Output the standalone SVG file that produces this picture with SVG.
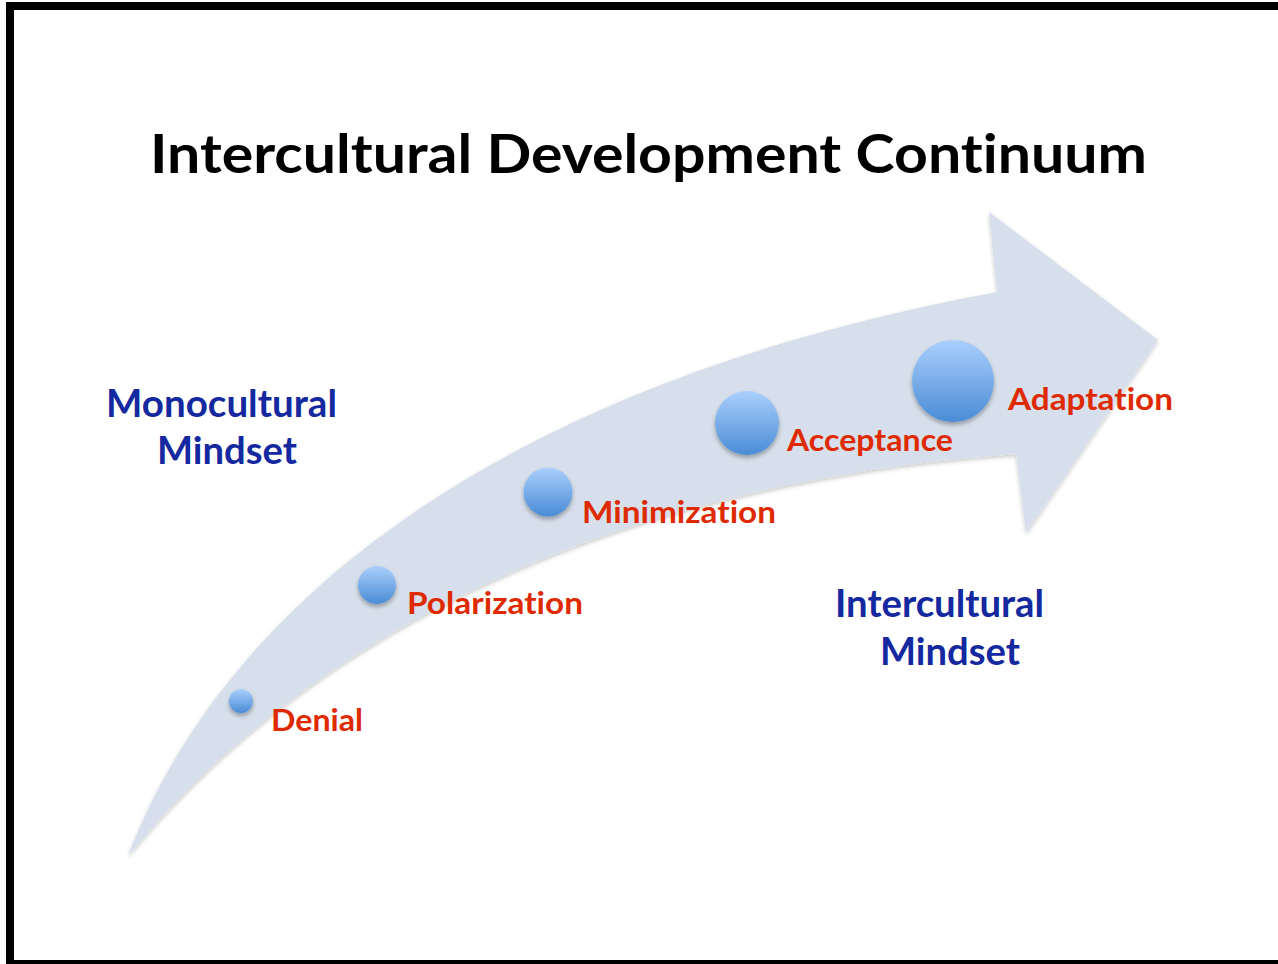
<svg xmlns="http://www.w3.org/2000/svg" width="1278" height="964" viewBox="0 0 1278 964">
  <defs>
    <linearGradient id="ball" x1="0" y1="0" x2="0" y2="1">
      <stop offset="0" stop-color="#AACFFC"/>
      <stop offset="1" stop-color="#4A8CD6"/>
    </linearGradient>
    <filter id="sh" x="-30%" y="-30%" width="160%" height="170%">
      <feDropShadow dx="0" dy="3" stdDeviation="2" flood-color="#000" flood-opacity="0.3"/>
    </filter>
    <filter id="ash" x="-10%" y="-10%" width="120%" height="120%">
      <feDropShadow dx="0" dy="2" stdDeviation="2" flood-color="#000" flood-opacity="0.22"/>
    </filter>
  </defs>
  <style>
    text { font-variant-ligatures: none; font-feature-settings: "liga" 0, "clig" 0, "dlig" 0; }
    .title { font-family: Lato, "Open Sans", "Liberation Sans", sans-serif; font-weight: bold; font-size: 53px; fill: #000; }
    .stage { font-family: Lato, "Open Sans", "Liberation Sans", sans-serif; font-weight: bold; font-size: 30px; fill: #DF2A00; }
    .mind { font-family: Lato, "Open Sans", "Liberation Sans", sans-serif; font-weight: bold; font-size: 38px; fill: #14289F; }
    .ball { fill: url(#ball); filter: url(#sh); }
  </style>
  <rect x="0" y="0" width="1278" height="964" fill="#fff"/>
  <rect x="10" y="6" width="1300" height="958" fill="#fff" stroke="#000" stroke-width="8"/>

  <text class="title" x="150" y="173" textLength="997" lengthAdjust="spacingAndGlyphs">Intercultural Development Continuum</text>

  <g id="connectors">
    <path id="arrow" d="M128,856 C230,590 520,380 997,292 L989,212 L1158,340 L1026,533 L1016,454 C650,480 330,610 128,856 Z" fill="#D6DFEB" filter="url(#ash)"/>
  </g>

  <g id="monocultural">
    <text class="mind" x="106" y="417" textLength="231" lengthAdjust="spacingAndGlyphs">Monocultural</text>
    <text class="mind" x="157" y="464" textLength="140" lengthAdjust="spacingAndGlyphs">Mindset</text>
  </g>
  <g id="intercultural">
    <text class="mind" x="835" y="617" textLength="209" lengthAdjust="spacingAndGlyphs">Intercultural</text>
    <text class="mind" x="880" y="665" textLength="140" lengthAdjust="spacingAndGlyphs">Mindset</text>
  </g>

  <g id="denial">
    <circle class="ball" cx="241" cy="701" r="12"/>
    <text class="stage" x="271" y="731" textLength="92" lengthAdjust="spacingAndGlyphs">Denial</text>
  </g>
  <g id="polarization">
    <circle class="ball" cx="377" cy="585" r="19"/>
    <text class="stage" x="407" y="614" textLength="176" lengthAdjust="spacingAndGlyphs">Polarization</text>
  </g>
  <g id="minimization">
    <circle class="ball" cx="548" cy="492" r="24.5"/>
    <text class="stage" x="582" y="523" textLength="194" lengthAdjust="spacingAndGlyphs">Minimization</text>
  </g>
  <g id="acceptance">
    <circle class="ball" cx="747" cy="423" r="32"/>
    <text class="stage" x="787" y="451" textLength="166" lengthAdjust="spacingAndGlyphs">Acceptance</text>
  </g>
  <g id="adaptation">
    <circle class="ball" cx="953" cy="381" r="41"/>
    <text class="stage" x="1008" y="410" textLength="165" lengthAdjust="spacingAndGlyphs">Adaptation</text>
  </g>
</svg>
